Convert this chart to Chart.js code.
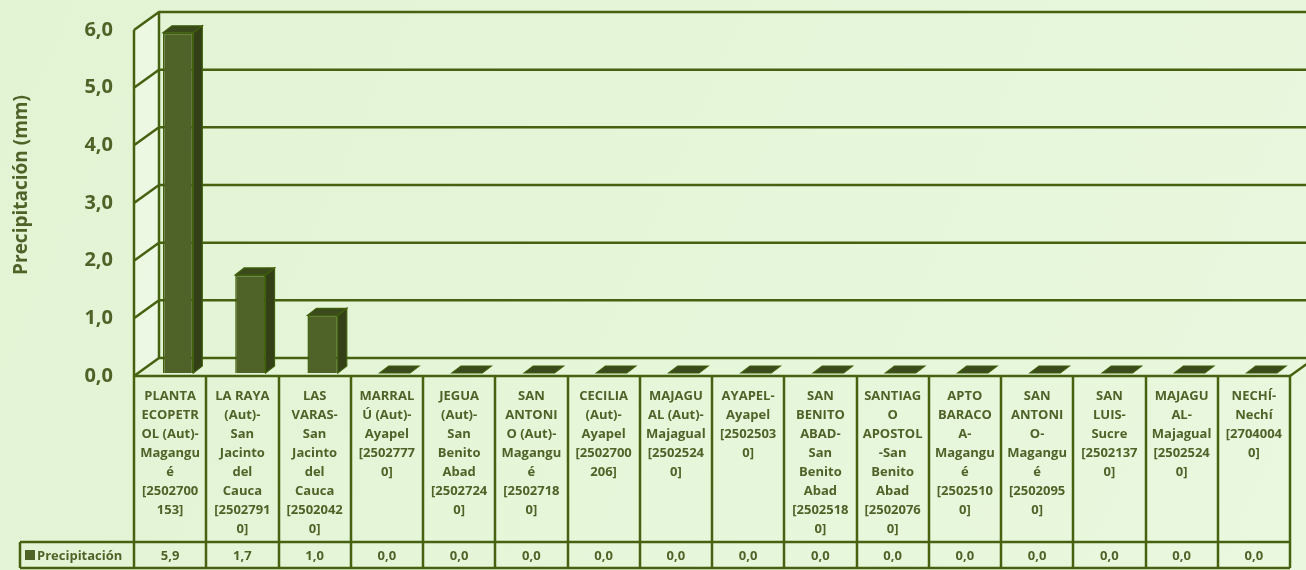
<!DOCTYPE html>
<html>
<head>
<meta charset="utf-8">
<script src="https://cdn.jsdelivr.net/npm/chart.js@4.4.1/dist/chart.umd.min.js"></script>
<style>
    html, body { margin: 0; padding: 0; background: #e5f6d8; }
    #wrap { width: 1306px; height: 570px; }
</style>
</head>
<body>
<div id="wrap"><canvas id="chart" width="1306" height="570"></canvas></div>
<script>
const stations = [
    ['PLANTA', 'ECOPETR', 'OL (Aut)-', 'Magangu', 'é', '[2502700', '153]'],
    ['LA RAYA', '(Aut)-', 'San', 'Jacinto', 'del', 'Cauca', '[2502791', '0]'],
    ['LAS', 'VARAS-', 'San', 'Jacinto', 'del', 'Cauca', '[2502042', '0]'],
    ['MARRAL', 'Ú (Aut)-', 'Ayapel', '[2502777', '0]'],
    ['JEGUA', '(Aut)-', 'San', 'Benito', 'Abad', '[2502724', '0]'],
    ['SAN', 'ANTONI', 'O (Aut)-', 'Magangu', 'é', '[2502718', '0]'],
    ['CECILIA', '(Aut)-', 'Ayapel', '[2502700', '206]'],
    ['MAJAGU', 'AL (Aut)-', 'Majagual', '[2502524', '0]'],
    ['AYAPEL-', 'Ayapel', '[2502503', '0]'],
    ['SAN', 'BENITO', 'ABAD-', 'San', 'Benito', 'Abad', '[2502518', '0]'],
    ['SANTIAG', 'O', 'APOSTOL', '-San', 'Benito', 'Abad', '[2502076', '0]'],
    ['APTO', 'BARACO', 'A-', 'Magangu', 'é', '[2502510', '0]'],
    ['SAN', 'ANTONI', 'O-', 'Magangu', 'é', '[2502095', '0]'],
    ['SAN', 'LUIS-', 'Sucre', '[2502137', '0]'],
    ['MAJAGU', 'AL-', 'Majagual', '[2502524', '0]'],
    ['NECHÍ-', 'Nechí', '[2704004', '0]']
];
const precipitation = [5.9, 1.7, 1.0, 0, 0, 0, 0, 0, 0, 0, 0, 0, 0, 0, 0, 0];
const yMin = 0;
const yMax = 6;
const yStep = 1;
const seriesName = 'Precipitación';
const axisTitle = 'Precipitación (mm)';

const INK = '#4f6228';
const LINE = '#46610f';
const FONT = '"Open Sans", "Noto Sans", sans-serif';
const WALL_DX = 25, WALL_DY = -18;   // back wall offset
const BAR_SX = 8, BAR_SY = -3;       // bars sit a little behind the front plane
const BAR_DX = 9, BAR_DY = -7;       // bar depth

const fmt = v => v.toFixed(1).replace('.', ',');

function poly(ctx, pts, fill, stroke) {
    ctx.beginPath();
    ctx.moveTo(pts[0][0], pts[0][1]);
    for (let i = 1; i < pts.length; i++) ctx.lineTo(pts[i][0], pts[i][1]);
    ctx.closePath();
    ctx.fillStyle = fill;
    ctx.fill();
    if (stroke) {
        ctx.strokeStyle = stroke;
        ctx.lineWidth = 1.2;
        ctx.stroke();
    }
}

const scene3d = {
    id: 'scene3d',
    beforeDraw(chart) {
        const { ctx, width, height } = chart;
        const g = ctx.createLinearGradient(0, 0, width, height);
        g.addColorStop(0, '#e2f4d4');
        g.addColorStop(1, '#e9f8de');
        ctx.save();
        ctx.fillStyle = g;
        ctx.fillRect(0, 0, width, height);
        ctx.restore();
    },
    beforeDatasetsDraw(chart) {
        const { ctx, chartArea: a, scales: { y }, width } = chart;
        const yTop = y.getPixelForValue(yMax);
        const y0 = y.getPixelForValue(yMin);
        ctx.save();
        // side wall
        poly(ctx, [[a.left, yTop], [a.left + WALL_DX, yTop + WALL_DY], [a.left + WALL_DX, y0 + WALL_DY], [a.left, y0]], 'rgba(255,255,255,0.35)');
        ctx.strokeStyle = LINE;
        ctx.lineWidth = 2.5;
        ctx.beginPath();
        y.ticks.forEach(t => {
            const py = y.getPixelForValue(t.value);
            ctx.moveTo(a.left, py);
            ctx.lineTo(a.left + WALL_DX, py + WALL_DY);
            ctx.lineTo(width, py + WALL_DY);
        });
        ctx.moveTo(a.left, yTop);
        ctx.lineTo(a.left, y0);
        ctx.moveTo(a.left + WALL_DX, yTop + WALL_DY);
        ctx.lineTo(a.left + WALL_DX, y0 + WALL_DY);
        ctx.moveTo(a.right, y0);
        ctx.lineTo(a.right + WALL_DX, y0 + WALL_DY);
        ctx.stroke();
        ctx.restore();

        // axis title
        ctx.save();
        ctx.translate(22, 185);
        ctx.rotate(-Math.PI / 2);
        ctx.font = 'bold 19px ' + FONT;
        ctx.fillStyle = INK;
        ctx.textAlign = 'center';
        ctx.textBaseline = 'middle';
        ctx.fillText(axisTitle, 0, 0);
        ctx.restore();

        ctx.save();
        ctx.translate(BAR_SX, BAR_SY);
    },
    afterDatasetsDraw(chart) {
        const { ctx } = chart;
        chart.getDatasetMeta(0).data.forEach(bar => {
            const l = bar.x - bar.width / 2, r = bar.x + bar.width / 2;
            const t = bar.y, b = bar.base;
            if (b - t > 0.5) {
                poly(ctx, [[r, t], [r + BAR_DX, t + BAR_DY], [r + BAR_DX, b + BAR_DY], [r, b]], '#323f17', '#3f5f0c');
            }
            poly(ctx, [[l, t], [r, t], [r + BAR_DX, t + BAR_DY], [l + BAR_DX, t + BAR_DY]], '#3a4a1b', '#3f5f0c');
        });
        ctx.restore();

        // data table
        const { chartArea: a, scales: { x, y } } = chart;
        const y0 = y.getPixelForValue(yMin);
        const step = x.getPixelForValue(1) - x.getPixelForValue(0);
        const rowTop = 542, rowBottom = 568, tableLeft = 20;
        ctx.save();
        ctx.strokeStyle = LINE;
        ctx.lineWidth = 2.5;
        ctx.beginPath();
        ctx.moveTo(a.left, y0);
        ctx.lineTo(a.right, y0);
        for (let i = 0; i <= stations.length; i++) {
            const px = Math.round(x.getPixelForValue(0) - step / 2 + i * step);
            ctx.moveTo(px, y0);
            ctx.lineTo(px, rowBottom);
        }
        ctx.moveTo(tableLeft, rowTop);
        ctx.lineTo(a.right, rowTop);
        ctx.moveTo(tableLeft, rowBottom);
        ctx.lineTo(a.right, rowBottom);
        ctx.moveTo(tableLeft, rowTop);
        ctx.lineTo(tableLeft, rowBottom);
        ctx.stroke();

        ctx.fillStyle = INK;
        ctx.font = 'bold 13px ' + FONT;
        ctx.textAlign = 'center';
        ctx.textBaseline = 'middle';
        stations.forEach((lines, i) => {
            const cx = x.getPixelForValue(i);
            lines.forEach((ln, k) => ctx.fillText(ln, cx, 396 + k * 19));
            ctx.fillText(fmt(precipitation[i]), cx, (rowTop + rowBottom) / 2 + 1);
        });
        ctx.fillStyle = '#4f6228';
        ctx.fillRect(tableLeft + 5, 550, 10, 10);
        ctx.fillStyle = INK;
        ctx.textAlign = 'left';
        ctx.fillText(seriesName, tableLeft + 17, (rowTop + rowBottom) / 2 + 1);
        ctx.restore();
    }
};

new Chart(document.getElementById('chart'), {
    type: 'bar',
    data: {
        labels: stations,
        datasets: [{
            label: seriesName,
            data: precipitation,
            backgroundColor: '#4f6228',
            borderColor: '#3f5f0c',
            borderWidth: 1.5,
            categoryPercentage: 1,
            barPercentage: 0.42,
            clip: false
        }]
    },
    options: {
        responsive: false,
        animation: false,
        devicePixelRatio: 1,
        layout: { padding: { top: 30, right: 16, left: 0, bottom: 0 } },
        plugins: { legend: { display: false }, tooltip: { enabled: false } },
        scales: {
            x: {
                grid: { display: false },
                border: { display: false },
                ticks: { display: false },
                afterFit(s) { s.height = 194; }
            },
            y: {
                min: yMin,
                max: yMax,
                grid: { display: false },
                border: { display: false },
                ticks: {
                    stepSize: yStep,
                    padding: 13,
                    color: INK,
                    font: { family: FONT, size: 20, weight: 'bold' },
                    callback: v => fmt(v)
                },
                afterFit(s) { s.width = 134; }
            }
        }
    },
    plugins: [scene3d]
});
</script>
</body>
</html>
